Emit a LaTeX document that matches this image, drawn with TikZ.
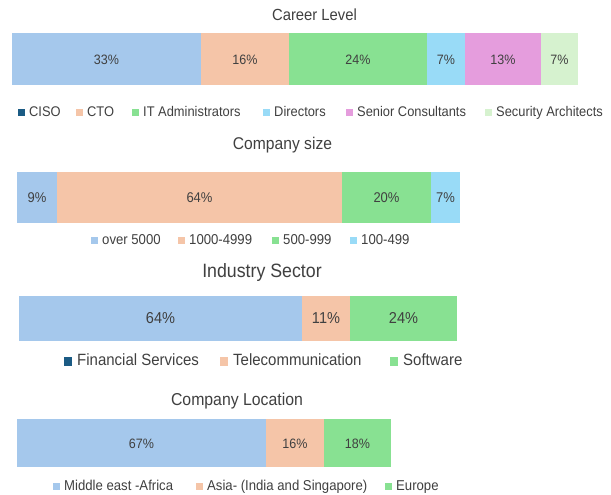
\documentclass[tikz,border=0pt]{standalone}
\usepackage{fontspec}
\setmainfont{Liberation Sans}[FakeStretch=0.92]
\usepackage{xcolor}
\usetikzlibrary{calc}
\definecolor{ink}{HTML}{404040}
\definecolor{sky}{HTML}{A5C8EC}
\definecolor{peach}{HTML}{F5C5A8}
\definecolor{mint}{HTML}{88E192}
\definecolor{cyan}{HTML}{99DBF7}
\definecolor{pink}{HTML}{E59DDD}
\definecolor{pale}{HTML}{D6F2CF}
\definecolor{navy}{HTML}{1B5B84}
\newcommand{\fsz}[1]{\fontsize{#1}{#1}\selectfont}
\tikzset{
  txt/.style={text=ink, inner sep=0pt, text height=0.72em, text depth=0pt},
  ttl/.style={txt},
  pct/.style={txt},
  leg/.style={txt, anchor=west}
}

\begin{document}
\begin{tikzpicture}[x=1pt, y=-1pt]
  \useasboundingbox[fill=white] (0,0) rectangle (611,495);
  % career level
  \node[ttl, font={\fsz{16.1}}] (t1) at (314.5,16.5) {Career Level};
  \foreach \a/\b/\c/\p [count=\i] in {12/201/sky/33, 201/289/peach/16, 289/427/mint/24, 427/465/cyan/7, 465/541/pink/13, 541/578/pale/7} {
    \fill[\c] (\a,33) rectangle (\b,85);
    \node[pct, font={\fsz{13.6}}] (p1-\i) at ({(\a+\b)/2},60.5) {\p\%};
  }
  \foreach \x/\c/\t [count=\i] in {29/navy/CISO, 87/peach/CTO, 143/mint/IT Administrators, 274/cyan/Directors, 357/pink/Senior Consultants, 496/pale/Security Architects} {
    \node[leg, font={\fsz{14}}] (l1-\i) at (\x,112.5) {\t};
    \fill[\c] ($(l1-\i.west)+(-11.5,-3.6)$) rectangle +(7.2,7.2);
  }
  % company size
  \node[ttl, font={\fsz{17}}] (t2) at (282.5,145.5) {Company size};
  \foreach \a/\b/\c/\p [count=\i] in {17/57/sky/9, 57/342/peach/64, 342/431/mint/20, 431/460/cyan/7} {
    \fill[\c] (\a,172) rectangle (\b,223);
    \node[pct, font={\fsz{14.1}}] (p2-\i) at ({(\a+\b)/2},199) {\p\%};
  }
  \foreach \x/\c/\t [count=\i] in {102/sky/over 5000, 189/peach/1000-4999, 283/mint/500-999, 361/cyan/100-499} {
    \node[leg, font={\fsz{14.3}}] (l2-\i) at (\x,240.5) {\t};
    \fill[\c] ($(l2-\i.west)+(-11,-3.6)$) rectangle +(7.2,7.2);
  }
  % industry sector
  \node[ttl, font={\fsz{19.3}}] (t3) at (262,273.5) {Industry Sector};
  \foreach \a/\b/\c/\p [count=\i] in {19/302/sky/64, 302/350/peach/11, 350/457/mint/24} {
    \fill[\c] (\a,296) rectangle (\b,341);
    \node[pct, font={\fsz{15.8}}] (p3-\i) at ({(\a+\b)/2},320) {\p\%};
  }
  \foreach \x/\c/\t [count=\i] in {77/navy/Financial Services, 233/peach/Telecommunication, 403/mint/Software} {
    \node[leg, font={\fsz{16.3}}] (l3-\i) at (\x,361.5) {\t};
    \fill[\c] ($(l3-\i.west)+(-13,-4.2)$) rectangle +(8.4,8.4);
  }
  % company location
  \node[ttl, font={\fsz{17.2}}] (t4) at (237,401.5) {Company Location};
  \foreach \a/\b/\c/\p [count=\i] in {17/266/sky/67, 266/324/peach/16, 324/391/mint/18} {
    \fill[\c] (\a,419) rectangle (\b,467);
    \node[pct, font={\fsz{13.6}}] (p4-\i) at ({(\a+\b)/2},444.5) {\p\%};
  }
  \foreach \x/\c/\t [count=\i] in {64/sky/Middle east -Africa, 207/peach/Asia- (India and Singapore), 396/mint/Europe} {
    \node[leg, font={\fsz{14.3}}] (l4-\i) at (\x,486.5) {\t};
    \fill[\c] ($(l4-\i.west)+(-11.5,-3.8)$) rectangle +(7.6,7.6);
  }
\end{tikzpicture}
\end{document}
